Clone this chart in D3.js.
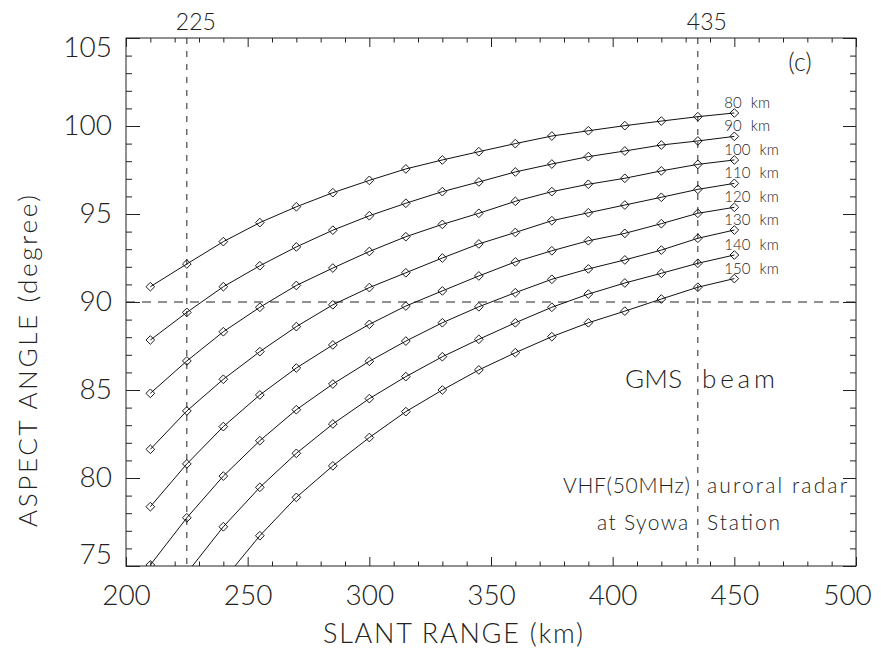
<!DOCTYPE html>
<html>
<head>
<meta charset="utf-8">
<script src="https://cdn.jsdelivr.net/npm/d3@7"></script>
<style>
  body { margin: 0; background: #fff; }
  text { font-family: Lato, "DejaVu Sans", sans-serif; font-weight: 300; fill: #222; }
</style>
</head>
<body>
<svg id="chart" width="881" height="648"></svg>
<script>
// slant range of each computed point (km)
const slantRange = [210, 225, 240, 255, 270, 285, 300, 315, 330, 345, 360, 375, 390, 405, 420, 435, 450];
const heights = [80, 90, 100, 110, 120, 130, 140, 150];

// aspect angle (degree) for each scattering height
const aspect80  = [90.87, 92.16, 93.43, 94.51, 95.41, 96.21, 96.91, 97.56, 98.07, 98.54, 99.00, 99.43, 99.73, 100.02, 100.28, 100.53, 100.74];
const aspect90  = [87.84, 89.41, 90.87, 92.06, 93.13, 94.08, 94.90, 95.61, 96.27, 96.82, 97.39, 97.84, 98.26, 98.58, 98.92, 99.15, 99.41];
const aspect100 = [84.81, 86.65, 88.31, 89.70, 90.94, 91.93, 92.87, 93.71, 94.41, 95.04, 95.72, 96.27, 96.69, 97.03, 97.45, 97.82, 98.07];
const aspect110 = [81.63, 83.81, 85.61, 87.18, 88.60, 89.84, 90.82, 91.66, 92.50, 93.30, 93.95, 94.62, 95.07, 95.51, 95.95, 96.40, 96.74];
const aspect120 = [78.37, 80.80, 82.92, 84.72, 86.25, 87.56, 88.73, 89.77, 90.63, 91.48, 92.28, 92.91, 93.48, 93.90, 94.45, 95.04, 95.38];
const aspect130 = [75.06, 77.74, 80.11, 82.12, 83.88, 85.34, 86.63, 87.78, 88.82, 89.73, 90.53, 91.29, 91.88, 92.39, 92.95, 93.62, 94.09];
const aspect140 = [71.80, 74.60, 77.23, 79.47, 81.40, 83.07, 84.51, 85.76, 86.89, 87.88, 88.82, 89.70, 90.45, 91.08, 91.63, 92.20, 92.67];
const aspect150 = [68.20, 71.40, 74.20, 76.72, 78.90, 80.69, 82.30, 83.77, 85.00, 86.14, 87.12, 88.03, 88.82, 89.48, 90.17, 90.84, 91.33];

const xTicks = [200, 250, 300, 350, 400, 450, 500];
const yTicks = [75, 80, 85, 90, 95, 100, 105];
const topLabels = [225, 435];   // marked slant ranges
const refAngle = 90;

let width = 881, height = 648;
let margin = { top: 38, right: 25, bottom: 82, left: 126 };

let svg = d3.select('#chart');

let x = d3.scaleLinear().domain([200, 500]).range([margin.left, width - margin.right]);
let y = d3.scaleLinear().domain([75, 105]).range([height - margin.bottom, margin.top]);

let series = heights.map((h, i) => ({
    height: h,
    values: [aspect80, aspect90, aspect100, aspect110, aspect120, aspect130, aspect140, aspect150][i]
        .map((v, j) => ({ r: slantRange[j], a: v }))
}));

let x0 = x.range()[0], x1 = x.range()[1];
let y0 = y.range()[0], y1 = y.range()[1];

svg.append('clipPath').attr('id', 'plot-clip')
   .append('rect')
   .attr('x', x0).attr('y', y1)
   .attr('width', x1 - x0).attr('height', y0 - y1);

// axes, ticks pointing inward
let minorX = d3.range(200, 501, 10).filter(d => d % 50 !== 0);
let minorY = d3.range(75, 106, 1).filter(d => d % 5 !== 0);

function styleAxis(g) {
    g.select('.domain').remove();
    g.selectAll('.tick line').attr('stroke', '#222').attr('stroke-width', 1);
}

svg.append('g').attr('transform', `translate(0,${y0})`)
   .call(d3.axisBottom(x).tickValues(xTicks).tickSize(-9).tickPadding(19).tickFormat(d3.format('d')))
   .call(styleAxis)
   .call(g => g.selectAll('text').attr('font-size', 28).attr('font-family', 'Lato, sans-serif').attr('fill', '#222')
       .attr('x', d => d === 500 ? -9 : 0));
svg.append('g').attr('transform', `translate(0,${y0})`)
   .call(d3.axisBottom(x).tickValues(minorX).tickSize(-4.5).tickFormat(''))
   .call(styleAxis);

svg.append('g').attr('transform', `translate(0,${y1})`)
   .call(d3.axisTop(x).tickValues(xTicks).tickSize(-9).tickFormat(''))
   .call(styleAxis);
svg.append('g').attr('transform', `translate(0,${y1})`)
   .call(d3.axisTop(x).tickValues(minorX).tickSize(-4.5).tickFormat(''))
   .call(styleAxis);

svg.append('g').attr('transform', `translate(${x0},0)`)
   .call(d3.axisLeft(y).tickValues(yTicks).tickSize(-14).tickPadding(14).tickFormat(d3.format('d')))
   .call(styleAxis)
   .call(g => g.selectAll('text').attr('font-size', 28).attr('font-family', 'Lato, sans-serif').attr('fill', '#222')
       .attr('y', d => d === 105 ? 10 : d === 75 ? -11 : 0));
svg.append('g').attr('transform', `translate(${x0},0)`)
   .call(d3.axisLeft(y).tickValues(minorY).tickSize(-6).tickFormat(''))
   .call(styleAxis);

svg.append('g').attr('transform', `translate(${x1},0)`)
   .call(d3.axisRight(y).tickValues(yTicks).tickSize(-13).tickFormat(''))
   .call(styleAxis);
svg.append('g').attr('transform', `translate(${x1},0)`)
   .call(d3.axisRight(y).tickValues(minorY).tickSize(-6).tickFormat(''))
   .call(styleAxis);

svg.append('rect')
   .attr('x', x0).attr('y', y1)
   .attr('width', x1 - x0).attr('height', y0 - y1)
   .attr('fill', 'none').attr('stroke', '#222').attr('stroke-width', 1);

// top labels for marked ranges
svg.selectAll('.top-label').data(topLabels).enter()
   .append('text')
   .attr('x', d => x(d) + 9).attr('y', y1 - 8)
   .attr('text-anchor', 'middle').attr('font-size', 23)
   .text(d => d);

// dashed reference lines
let plot = svg.append('g').attr('clip-path', 'url(#plot-clip)');

plot.selectAll('.vref').data(topLabels).enter()
    .append('line')
    .attr('x1', d => x(d)).attr('x2', d => x(d))
    .attr('y1', y1).attr('y2', y0)
    .attr('stroke', '#222').attr('stroke-width', 1).attr('stroke-dasharray', '6,7');

plot.append('line')
    .attr('x1', x0).attr('x2', x1)
    .attr('y1', y(refAngle)).attr('y2', y(refAngle))
    .attr('stroke', '#222').attr('stroke-width', 1).attr('stroke-dasharray', '9,7');

// curves
let line = d3.line().x(d => x(d.r)).y(d => y(d.a));
let diamond = d3.symbol().type(d3.symbolSquare).size(38);

let curves = plot.selectAll('.curve').data(series).enter().append('g');

curves.append('path')
      .attr('d', d => line(d.values))
      .attr('fill', 'none').attr('stroke', '#111').attr('stroke-width', 1);

curves.selectAll('.pt').data(d => d.values).enter()
      .append('path')
      .attr('d', diamond)
      .attr('transform', d => `translate(${x(d.r)},${y(d.a)}) rotate(45)`)
      .attr('fill', 'none').attr('stroke', '#111').attr('stroke-width', 0.9);

// height labels at the right end of each curve
svg.selectAll('.hlabel').data(series).enter()
   .append('text')
   .attr('x', d => x(d.values[d.values.length - 1].r) - 10)
   .attr('y', d => y(d.values[d.values.length - 1].a) - 5)
   .attr('font-size', 15)
   .attr('word-spacing', 5)
   .text(d => `${d.height} km`);

// annotations, placed in data units
const notes = [
    { text: '(c)', r: 477, a: 103.1, size: 25, anchor: 'middle' },
    { text: 'GMS', r: 405.1, a: 85.1, size: 26, len: 57 },
    { text: 'beam', r: 436.7, a: 85.1, size: 26, len: 73 },
    { text: 'VHF(50MHz)', r: 379.6, a: 79.15, size: 21, len: 127 },
    { text: 'auroral radar', r: 438.8, a: 79.15, size: 21, len: 140 },
    { text: 'at Syowa', r: 393.6, a: 77.05, size: 21, len: 91 },
    { text: 'Station', r: 438.8, a: 77.05, size: 21, len: 73 }
];

svg.selectAll('.note').data(notes).enter()
   .append('text')
   .attr('x', d => x(d.r)).attr('y', d => y(d.a))
   .attr('font-size', d => d.size)
   .attr('text-anchor', d => d.anchor || 'start')
   .each(function(d) {
       if (d.len) d3.select(this).attr('textLength', d.len).attr('lengthAdjust', 'spacing');
   })
   .text(d => d.text);

// axis titles
svg.append('text')
   .attr('x', 453).attr('y', 643)
   .attr('text-anchor', 'middle').attr('font-size', 27)
   .attr('textLength', 260).attr('lengthAdjust', 'spacing')
   .text('SLANT RANGE (km)');

svg.append('text')
   .attr('transform', 'translate(37,361) rotate(-90)')
   .attr('text-anchor', 'middle').attr('font-size', 26)
   .attr('textLength', 332).attr('lengthAdjust', 'spacing')
   .text('ASPECT ANGLE  (degree)');
</script>
</body>
</html>
